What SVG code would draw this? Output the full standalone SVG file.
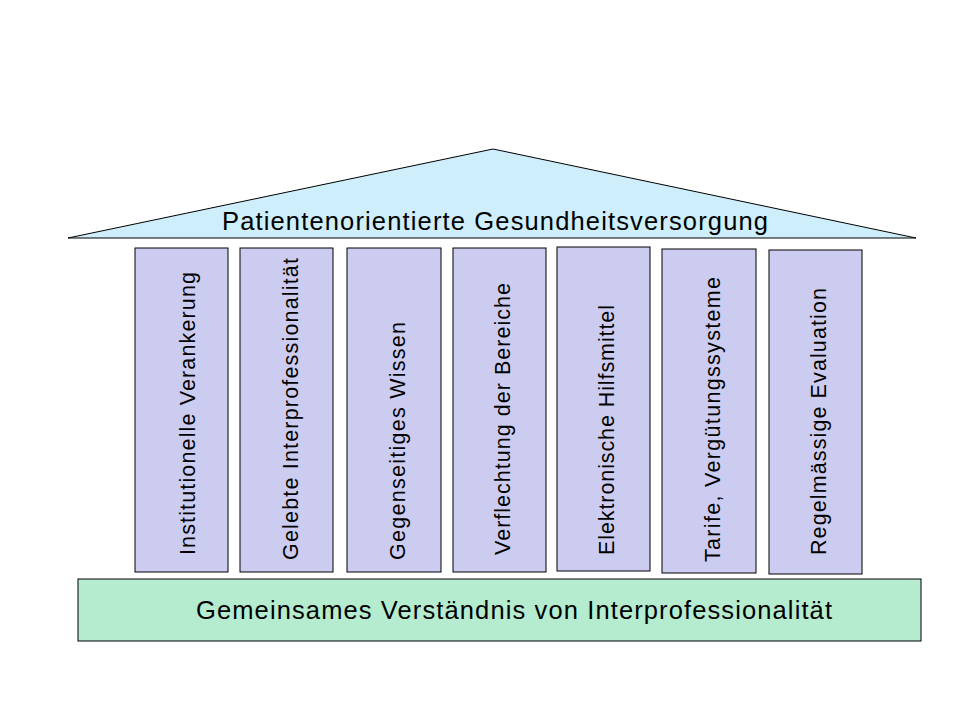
<svg xmlns="http://www.w3.org/2000/svg" width="960" height="720" viewBox="0 0 960 720">
<style>
.p{fill:#ccccf0;stroke:#000;stroke-width:1}
.t{font-family:"Liberation Sans",Arial,sans-serif;fill:#000}
.pt{font-size:21.5px}
</style>
<rect width="960" height="720" fill="#fff"/>
<g id="roof"><polygon points="68,238 493,149 916,238" fill="#cdeefa" stroke="#000"/>
<text class="t" x="222" y="230" font-size="25.5" textLength="546" lengthAdjust="spacing">Patientenorientierte Gesundheitsversorgung</text></g>
<g id="p1"><rect class="p" x="135" y="248" width="93" height="324"/><text class="t pt" transform="translate(195,555) rotate(-90)" textLength="283" lengthAdjust="spacing">Institutionelle Verankerung</text></g>
<g id="p2"><rect class="p" x="240" y="248" width="93" height="324"/><text class="t pt" transform="translate(298,560) rotate(-90)" textLength="302" lengthAdjust="spacing">Gelebte Interprofessionalität</text></g>
<g id="p3"><rect class="p" x="347" y="248" width="94" height="324"/><text class="t pt" transform="translate(405,560) rotate(-90)" textLength="238" lengthAdjust="spacing">Gegenseitiges Wissen</text></g>
<g id="p4"><rect class="p" x="453" y="248" width="93" height="324"/><text class="t pt" transform="translate(510,555) rotate(-90)" textLength="272" lengthAdjust="spacing">Verflechtung der Bereiche</text></g>
<g id="p5"><rect class="p" x="557" y="247" width="93" height="324"/><text class="t pt" transform="translate(614,555) rotate(-90)" textLength="250" lengthAdjust="spacing">Elektronische Hilfsmittel</text></g>
<g id="p6"><rect class="p" x="662" y="249" width="94" height="324"/><text class="t pt" transform="translate(720,562) rotate(-90)" textLength="285" lengthAdjust="spacing">Tarife,  Vergütungssysteme</text></g>
<g id="p7"><rect class="p" x="769" y="250" width="93" height="324"/><text class="t pt" transform="translate(826,555) rotate(-90)" textLength="267" lengthAdjust="spacing">Regelmässige Evaluation</text></g>
<g id="base"><rect x="78" y="579" width="843" height="62" fill="#b5eccf" stroke="#000"/>
<text class="t" x="196" y="619" font-size="25.5" textLength="636" lengthAdjust="spacing">Gemeinsames Verständnis von Interprofessionalität</text></g>
<g id="connectors"/>
</svg>
